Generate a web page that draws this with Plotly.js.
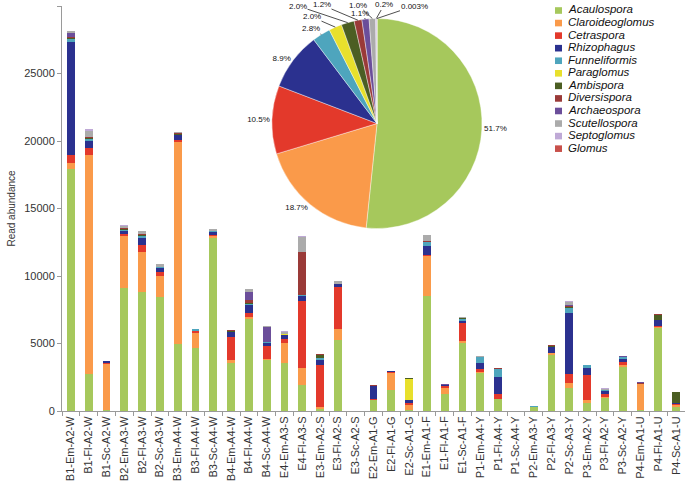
<!DOCTYPE html>
<html><head><meta charset="utf-8">
<script src="https://cdn.plot.ly/plotly-3.0.1.min.js"></script>
<style>html,body{margin:0;padding:0;background:#fff}</style>
</head><body>
<div id="chart" style="width:685px;height:487px"></div>
<script>
const samples = ["B1-Em-A2-W","B1-Fl-A2-W","B1-Sc-A2-W","B2-Em-A3-W","B2-Fl-A3-W","B2-Sc-A3-W",
  "B3-Em-A4-W","B3-Fl-A4-W","B3-Sc-A4-W","B4-Em-A4-W","B4-Fl-A4-W","B4-Sc-A4-W",
  "E4-Em-A3-S","E4-Fl-A3-S","E3-Em-A2-S","E3-Fl-A2-S","E3-Sc-A2-S","E2-Em-A1-G","E2-Fl-A1-G","E2-Sc-A1-G",
  "E1-Em-A1-F","E1-Fl-A1-F","E1-Sc-A1-F","P1-Em-A4-Y","P1-Fl-A4-Y","P1-Sc-A4-Y",
  "P2-Em-A3-Y","P2-Fl-A3-Y","P2-Sc-A3-Y","P3-Em-A2-Y","P3-Fl-A2-Y","P3-Sc-A2-Y",
  "P4-Em-A1-U","P4-Fl-A1-U","P4-Sc-A1-U"];

const genera = ["Acaulospora","Claroideoglomus","Cetraspora","Rhizophagus","Funneliformis","Paraglomus",
  "Ambispora","Diversispora","Archaeospora","Scutellospora","Septoglomus","Glomus"];
const colors = ["#a6c85c","#fa9a4a","#e3392b","#2b318f","#4ea5bd","#e8e02c",
  "#4b5e23","#9a3a38","#6b4e9a","#ababab","#bfa9d6","#c8504a"];

const acaulospora     = [17900,2750,100, 9100,8850,8450, 5000,4650,12850, 3580,6800,3780, 3550,1930, 170,5260,0, 815,1580,50, 8490,1280,5060, 2790,890,0, 290,4150,1730, 620,990,3280, 50,6120,320];
const claroideoglomus = [500,16250,3400, 3850,2950,1580, 14950,1150,150, 220,180,80, 1460,1280, 150,810,0, 0,1210,360, 2990,450,120, 100,0,0, 0,120,320, 190,50,100, 1970,120,120];
const cetraspora      = [600,500,30, 150,520,300, 150,100,30, 1650,250,980, 320,4940, 3060,3090,0, 100,100,180, 100,150,1360, 220,370,0, 0,0,670, 1860,200,250, 0,80,50];
const rhizophagus     = [8300,520,150, 270,510,250, 350,50,250, 390,650,200, 270,370, 370,270,0, 970,60,225, 640,80,100, 470,1280,0, 40,470,4570, 540,230,220, 0,390,80];
const funneliformis   = [250,100,30, 60,150,60, 30,100,40, 30,60,70, 0,100, 150,0,0, 0,0,0, 300,0,170, 440,570,0, 20,0,360, 170,80,150, 0,0,0];
const paraglomus      = [0,0,0, 0,0,0, 0,0,0, 0,0,0, 100,0, 0,0,0, 0,0,1535, 0,0,0, 0,0,0, 0,0,0, 0,0,0, 0,0,0];
const ambispora       = [100,100,0, 60,50,60, 60,0,30, 30,80,30, 0,0, 270,0,0, 0,0,100, 0,0,50, 0,0,0, 0,60,80, 0,0,0, 0,400,810];
const diversispora    = [80,50,0, 30,60,0, 30,0,0, 120,200,0, 0,3130, 30,0,0, 50,0,0, 60,0,50, 0,100,0, 0,60,60, 0,0,0, 50,50,60];
const archaeospora    = [300,0,0, 0,0,0, 0,0,0, 0,600,1100, 0,0, 0,0,0, 0,50,0, 50,30,0, 0,0,0, 0,0,60, 0,0,100, 80,0,0];
const scutellospora   = [100,500,30, 150,250,200, 100,0,150, 0,200,50, 150,1150, 0,220,0, 0,0,20, 400,30,80, 30,0,0, 0,0,250, 0,80,0, 0,30,0];
const septoglomus     = [50,150,0, 80,0,0, 30,0,0, 0,0,0, 50,50, 0,0,0, 0,0,0, 0,0,0, 0,0,0, 0,0,50, 0,50,0, 0,0,0];
const glomus          = [0,0,0, 0,0,0, 0,0,0, 0,0,0, 0,0, 0,0,0, 0,0,0, 0,0,0, 0,0,0, 0,0,0, 0,0,0, 0,0,0];

const seriesValues = [acaulospora,claroideoglomus,cetraspora,rhizophagus,funneliformis,paraglomus,
  ambispora,diversispora,archaeospora,scutellospora,septoglomus,glomus];

const piePercent = [51.7,18.7,10.5,8.9,2.8,2.0,2.0,1.2,1.1,1.0,0.2,0.003];
const pieLabels  = ["51.7%","18.7%","10.5%","8.9%","2.8%","2.0%","2.0%","1.2%","1.1%","1.0%","0.2%","0.003%"];
// small-slice labels are set out above the pie with leader lines (pixel positions of the label text)
const smallLabelPos = {4:[311,29], 5:[312,17], 6:[298,6], 7:[322,5], 8:[360,13], 9:[358,5], 10:[384,5], 11:[414,6]};

const FONT = "Liberation Sans, Arial, Helvetica, sans-serif";
const W = 685, H = 487, M = {l:62, r:0, t:6, b:76};
const pw = W - M.l - M.r, ph = H - M.t - M.b;
const px2x = p => (p - M.l) / pw;
const py2y = p => (H - M.b - p) / ph;

const traces = genera.map((g, i) => ({
  type: 'bar', name: g, x: samples, y: seriesValues[i],
  marker: {color: colors[i]}, showlegend: false, hoverinfo: 'x+y+name'
}));

const pieDom = {x: [px2x(272), px2x(482)], y: [py2y(229), py2y(18)]};
traces.push({
  type: 'pie', labels: genera, values: piePercent,
  text: pieLabels.map((t, i) => (i in smallLabelPos) ? '' : t),
  textinfo: 'text', textposition: 'outside', sort: false, direction: 'clockwise', rotation: 0,
  marker: {colors: colors, line: {color: '#ffffff', width: 0.4}},
  textfont: {size: 8, color: '#111', family: FONT},
  domain: pieDom, showlegend: false, automargin: false
});

const shapes = [], annotations = [];
genera.forEach((g, i) => {
  const cy = 10.5 + i * 12.56;
  shapes.push({type: 'rect', xref: 'paper', yref: 'paper',
    x0: px2x(555), x1: px2x(562), y0: py2y(cy + 3.3), y1: py2y(cy - 3.3),
    fillcolor: colors[i], line: {width: 0}});
  annotations.push({xref: 'paper', yref: 'paper', x: px2x(566), y: py2y(cy - 1),
    xanchor: 'left', yanchor: 'middle', showarrow: false,
    text: '<i>' + g + '</i>', font: {size: 11.5, color: '#111', family: FONT}});
});

// leader-line labels for the small pie slices, pointing at each slice's mid-angle on the rim
const pcx = M.l + pw * (pieDom.x[0] + pieDom.x[1]) / 2;
const pcy = H - M.b - ph * (pieDom.y[0] + pieDom.y[1]) / 2;
const pr = Math.min(pw * (pieDom.x[1] - pieDom.x[0]), ph * (pieDom.y[1] - pieDom.y[0])) / 2;
const pieTotal = piePercent.reduce((a, b) => a + b, 0);
let cum = 0;
piePercent.forEach((v, i) => {
  const mid = (cum + v / 2) / pieTotal * 2 * Math.PI;
  cum += v;
  if (!(i in smallLabelPos)) return;
  const hx = pcx + pr * Math.sin(mid), hy = pcy - pr * Math.cos(mid);
  const [lx, ly] = smallLabelPos[i];
  annotations.push({xref: 'paper', yref: 'paper', x: px2x(hx), y: py2y(hy),
    ax: lx - hx, ay: ly - hy, showarrow: true, arrowhead: 0, arrowwidth: 0.8, arrowcolor: '#222',
    text: pieLabels[i], font: {size: 8, color: '#111', family: FONT}, borderpad: 0});
});

const layout = {
  width: W, height: H, margin: M, barmode: 'stack', bargap: 0.56,
  paper_bgcolor: '#fff', plot_bgcolor: '#fff',
  font: {family: FONT, size: 11, color: '#333'},
  showlegend: false,
  xaxis: {type: 'category', tickangle: -90, ticks: 'outside', ticklen: 4, tickcolor: '#9a9a9a',
    tickson: 'boundaries', showline: true, linecolor: '#9a9a9a', linewidth: 1, showgrid: false,
    tickfont: {size: 11, color: '#333'}, range: [-0.5, samples.length - 0.5], fixedrange: true},
  yaxis: {range: [0, 30000], dtick: 5000, tickformat: 'd', ticks: 'outside', ticklen: 4, tickcolor: '#9a9a9a',
    showline: true, linecolor: '#9a9a9a', linewidth: 1, showgrid: false, zeroline: false,
    tickfont: {size: 11, color: '#333'},
    title: {text: 'Read abundance', font: {size: 10, color: '#333'}, standoff: 6}},
  shapes: shapes, annotations: annotations
};

Plotly.newPlot('chart', traces, layout, {displayModeBar: false, staticPlot: true});
</script>
</body></html>
